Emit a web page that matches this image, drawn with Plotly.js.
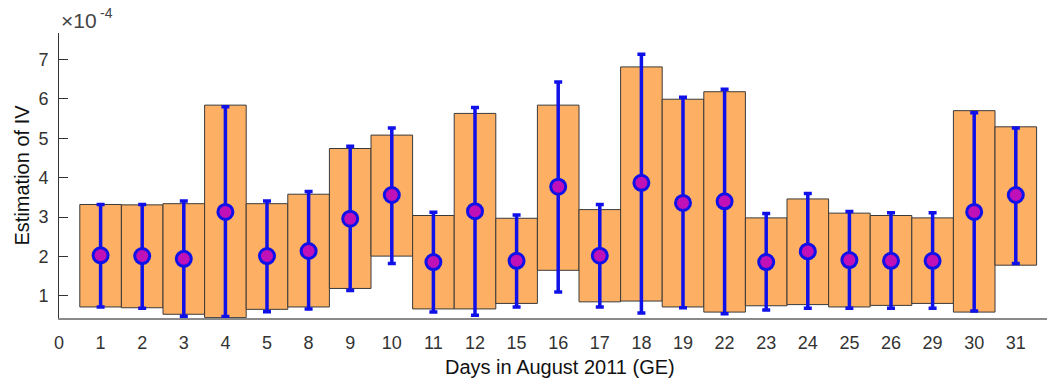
<!DOCTYPE html>
<html>
<head>
<meta charset="utf-8">
<script src="https://cdn.plot.ly/plotly-3.0.1.min.js"></script>
<style>html,body{margin:0;padding:0;background:#fff;}#chart{width:1047px;height:385px;}</style>
</head>
<body>
<div id="chart"></div>
<script>
// Categories (days in August 2011), tick labels
const days = ["1","2","3","4","5","8","9","10","11","12","15","16","17","18","19","22","23","24","25","26","29","30","31"];
const tickLabels = ["0"].concat(days);
// Box (bar) bottom and top, units of 1e-4
const boxLow  = [0.72,0.70,0.535,0.45,0.66,0.72,1.19,2.01,0.67,0.67,0.81,1.65,0.85,0.87,0.72,0.59,0.75,0.78,0.72,0.76,0.81,0.59,1.78];
const boxHigh = [3.32,3.31,3.34,5.84,3.34,3.58,4.74,5.08,3.04,5.63,2.97,5.84,3.19,6.81,5.99,6.18,2.98,3.46,3.10,3.04,2.98,5.70,5.29];
// Point estimate and error bar bounds
const estimate = [2.03,2.01,1.94,3.13,2.01,2.14,2.96,3.56,1.86,3.15,1.89,3.77,2.02,3.87,3.36,3.40,1.86,2.13,1.91,1.89,1.89,3.13,3.56];
const errLow  = [0.72,0.69,0.485,0.48,0.60,0.67,1.14,1.82,0.59,0.51,0.72,1.10,0.72,0.57,0.70,0.55,0.64,0.69,0.69,0.69,0.69,0.62,1.82];
const errHigh = [3.32,3.32,3.41,5.80,3.41,3.65,4.80,5.26,3.12,5.78,3.05,6.43,3.32,7.13,6.04,6.24,3.09,3.60,3.14,3.11,3.11,5.65,5.26];

const pos = days.map((d,i)=>i+1);

const bars = {
  type:'bar', x:pos, base:boxLow, y:boxHigh.map((h,i)=>h-boxLow[i]), width:1,
  marker:{color:'#FDB064', line:{color:'#3a3a3a', width:1}},
  hoverinfo:'skip', showlegend:false
};
const pts = {
  type:'scatter', mode:'markers', x:pos, y:estimate,
  marker:{symbol:'circle', size:15, color:'#C010B8', line:{color:'#1010E8', width:3}},
  error_y:{type:'data', symmetric:false,
    array:errHigh.map((h,i)=>h-estimate[i]),
    arrayminus:estimate.map((m,i)=>m-errLow[i]),
    color:'#1010E8', thickness:3.5, width:4},
  showlegend:false
};

const L = 59, W = 988, T = 33, H = 318 - 33;
const px = v => (v - L) / W;
const py = v => 1 - (v - T) / H;

const layout = {
  width:1047, height:385,
  margin:{l:L, r:0, t:T, b:67},
  paper_bgcolor:'#fff', plot_bgcolor:'#fff',
  font:{family:'"Liberation Sans", Arial, Helvetica, sans-serif', color:'#333'},
  bargap:0,
  xaxis:{range:[0,23.75], tickmode:'array', tickvals:tickLabels.map((t,i)=>i), ticktext:tickLabels,
    showgrid:false, zeroline:false, showline:true, linecolor:'#8a8a8a', linewidth:1.5,
    ticks:'', ticklabelstandoff:8, tickfont:{size:18, color:'#333'}},
  yaxis:{range:[0.44,7.67], tickmode:'array', tickvals:[1,2,3,4,5,6,7],
    showgrid:false, zeroline:false, showline:true, linecolor:'#333', linewidth:1,
    ticks:'inside', ticklen:9, tickcolor:'#333', ticklabelstandoff:6, tickfont:{size:18, color:'#333'}},
  annotations:[
    {xref:'paper', yref:'paper', x:px(59), y:py(20), xanchor:'left', yanchor:'middle',
      text:'×10', showarrow:false, font:{size:21, color:'#444'}},
    {xref:'paper', yref:'paper', x:px(98), y:py(13), xanchor:'left', yanchor:'middle',
      text:'-4', showarrow:false, font:{size:14, color:'#444'}},
    {xref:'paper', yref:'paper', x:px(560), y:py(367), xanchor:'center', yanchor:'middle',
      text:'Days in August 2011 (GE)', showarrow:false, font:{size:20, color:'#111'}},
    {xref:'paper', yref:'paper', x:px(21), y:0.5, xanchor:'center', yanchor:'middle', textangle:-90,
      text:'Estimation of IV', showarrow:false, font:{size:20, color:'#111'}}
  ]
};

Plotly.newPlot('chart', [bars, pts], layout, {displayModeBar:false, staticPlot:true});
</script>
</body>
</html>
